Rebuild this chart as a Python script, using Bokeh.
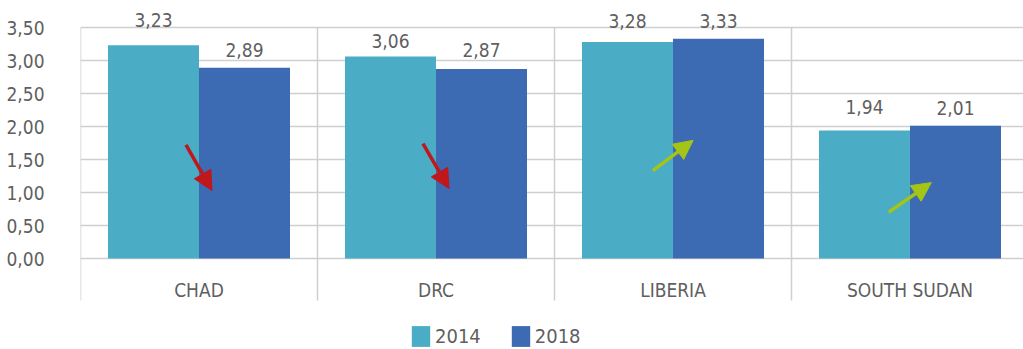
from bokeh.plotting import figure
from bokeh.models import (Range1d, FixedTicker, CustomJSTickFormatter, Legend, LegendItem,
                          Arrow, NormalHead, ColumnDataSource)
from bokeh.core.properties import value
from bokeh.embed import file_html
from bokeh.resources import INLINE

# ---------------- data ----------------
countries = ["CHAD", "DRC", "LIBERIA", "SOUTH SUDAN"]
years = ["2014", "2018"]
values_2014 = [3.23, 3.06, 3.28, 1.94]
values_2018 = [2.89, 2.87, 3.33, 2.01]
y_ticks = [0.0, 0.5, 1.0, 1.5, 2.0, 2.5, 3.0, 3.5]

# ---------------- style / layout ----------------
FONT = "DejaVu Sans Condensed"
FS = "19px"
TEXT_COLOR = "#5f5f5f"
GRID_COLOR = "#cfcfcf"
C2014 = "#4BACC6"
C2018 = "#3C6BB3"
RED = "#C0171C"
GREEN = "#A4C516"
BAR_W = 0.384
label_offsets_2014 = [25, 16, 21, 23]
label_offsets_2018 = [18, 19, 18, 18]
# arrow tail / tip heights (axis units) and half-spread around category center
arrow_tail = [1.72, 1.74, 1.33, 0.70]
arrow_tip = [1.03, 1.06, 1.79, 1.15]
arrow_dx = [0.055, 0.055, 0.085, 0.09]

n = len(countries)
centers = [i + 0.5 for i in range(n)]

p = figure(width=1023, height=349, output_backend="svg", toolbar_location=None,
           x_range=Range1d(0, 943 / 237), y_range=Range1d(-91 / 66, 258 / 66),
           x_axis_location=None, min_border=0, min_border_left=80,
           background_fill_color="white", border_fill_color="white")
p.outline_line_color = None
p.xgrid.visible = False
p.ygrid.ticker = FixedTicker(ticks=y_ticks)
p.ygrid.grid_line_color = GRID_COLOR
p.ygrid.grid_line_width = 1.5

ax = p.yaxis[0]
ax.ticker = FixedTicker(ticks=y_ticks)
ax.formatter = CustomJSTickFormatter(code="return tick.toFixed(2).replace('.', ',');")
ax.axis_line_color = None
ax.major_tick_line_color = None
ax.minor_tick_line_color = None
ax.major_label_standoff = 30
ax.major_label_text_font = FONT
ax.major_label_text_font_size = FS
ax.major_label_text_color = TEXT_COLOR

# separators (left axis line + category dividers)
sep_x = [float(i) for i in range(n)]
p.segment(x0=sep_x, x1=sep_x, y0=[-0.636] * n, y1=[y_ticks[-1]] * n,
          line_color=GRID_COLOR, line_width=1.5)

src = ColumnDataSource(dict(
    x14=[c - BAR_W / 2 for c in centers], x18=[c + BAR_W / 2 for c in centers],
    v14=values_2014, v18=values_2018,
    t14=[f"{v:.2f}".replace(".", ",") for v in values_2014],
    t18=[f"{v:.2f}".replace(".", ",") for v in values_2018],
    o14=[-o for o in label_offsets_2014], o18=[-o for o in label_offsets_2018],
))
r14 = p.vbar(x="x14", top="v14", bottom=0, width=BAR_W, source=src,
             fill_color=C2014, line_color=None)
r18 = p.vbar(x="x18", top="v18", bottom=0, width=BAR_W, source=src,
             fill_color=C2018, line_color=None)

for xcol, vcol, tcol, ocol in (("x14", "v14", "t14", "o14"), ("x18", "v18", "t18", "o18")):
    p.text(x=xcol, y=vcol, text=tcol, y_offset=ocol, source=src,
           text_align="center", text_baseline="middle", text_font=value(FONT),
           text_font_size=FS, text_color=TEXT_COLOR)

# category labels
p.text(x=centers, y=[-0.47] * n, text=countries, text_align="center",
       text_baseline="middle", text_font=value(FONT), text_font_size=FS,
       text_color=TEXT_COLOR)

# change arrows
for c, a, b, dx, v0, v1 in zip(centers, arrow_tail, arrow_tip, arrow_dx, values_2014, values_2018):
    col = RED if v1 < v0 else GREEN
    head = NormalHead(size=19, fill_color=col, line_color=col)
    p.add_layout(Arrow(end=head, x_start=c - dx, y_start=a, x_end=c + dx, y_end=b,
                       line_color=col, line_width=3.5))

legend = Legend(items=[LegendItem(label=years[0], renderers=[r14]),
                       LegendItem(label=years[1], renderers=[r18])],
                location=(329, 0), orientation="horizontal",
                glyph_width=23, glyph_height=26, label_height=26,
                label_standoff=3, spacing=28, padding=0, margin=0,
                label_text_font=FONT, label_text_font_size="20px",
                label_text_color=TEXT_COLOR,
                background_fill_alpha=0, border_line_color=None)
p.add_layout(legend)

open("out.html", "w").write(file_html(p, INLINE))
